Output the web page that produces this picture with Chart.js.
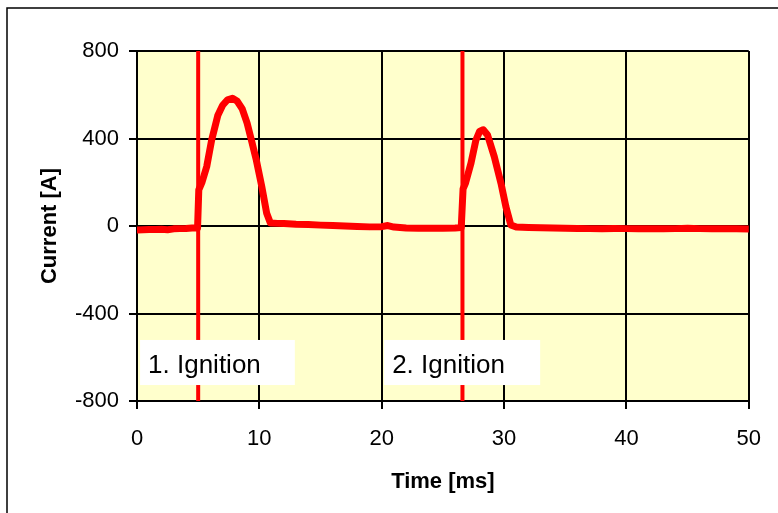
<!DOCTYPE html>
<html>
<head>
<meta charset="utf-8">
<script src="https://cdn.jsdelivr.net/npm/chart.js@4"></script>
<style>
  html, body { margin: 0; padding: 0; background: #ffffff; }
  #wrap { position: relative; width: 778px; height: 513px; }
</style>
</head>
<body>
<div id="wrap"><canvas id="c" width="778" height="513"></canvas></div>
<script>
// ---- Data ----
const timeMs = [
  0, 0.5, 1, 1.5, 2, 2.5, 3, 3.5, 4, 4.5, 4.95,
  5.05, 5.3, 5.7, 6.1, 6.6, 7.0, 7.4, 7.8, 8.2, 8.6, 9.0, 9.35, 9.75, 10.2, 10.6, 10.9,
  11.5, 12, 13, 14, 15, 16, 17, 18, 19, 20, 20.5, 21, 22, 23, 24, 25, 26, 26.5,
  26.65, 26.85, 27.3, 27.7, 28.0, 28.3, 28.65, 29.2, 29.75, 30.15, 30.55, 31,
  32, 33, 34, 35, 36, 37, 38, 39, 40, 41, 42, 43, 44, 45, 46, 47, 48, 49, 50
];
const currentA = [
  -18, -17, -16, -16, -15, -17, -13, -12, -11, -9, -9,
  165, 198, 272, 393, 505, 552, 577, 584, 570, 535, 470, 393, 302, 180, 58, 14,
  12, 11, 8, 7, 4, 2, 0, -2, -4, -3, 2, -5, -9, -10, -10, -10, -9, -7,
  170, 196, 288, 393, 432, 440, 416, 317, 195, 88, 5, -5,
  -7, -8, -9, -10, -11, -12, -12, -11, -12, -13, -12, -13, -12, -10, -12, -13, -13, -13, -14
];
const ignitionTimes = [5.0, 26.6];
const ignitionLabels = ["1. Ignition", "2. Ignition"];
const xTicks = [0, 10, 20, 30, 40, 50];
const yTicks = [-800, -400, 0, 400, 800];

// ---- Build datasets ----
const tracePoints = timeMs.map((t, i) => ({ x: t, y: currentA[i] }));
const yMin = yTicks[0], yMax = yTicks[yTicks.length - 1];
const ignitionSets = ignitionTimes.map(t => ({
  data: [{ x: t, y: yMin }, { x: t, y: yMax }],
  borderColor: '#ff0000',
  borderWidth: 4,
  pointRadius: 0,
  fill: false
}));

const FONT = "'Liberation Sans', Arial, sans-serif";

const plotBg = {
  id: 'plotBg',
  beforeDraw(chart) {
    const { ctx, chartArea: a } = chart;
    ctx.save();
    ctx.fillStyle = '#ffffff';
    ctx.fillRect(0, 0, chart.width, chart.height);
    ctx.strokeStyle = '#000000';
    ctx.lineWidth = 1.5;
    ctx.beginPath();
    ctx.moveTo(7, chart.height + 5);
    ctx.lineTo(7, 8);
    ctx.lineTo(chart.width + 5, 8);
    ctx.stroke();
    ctx.fillStyle = '#ffffcc';
    ctx.fillRect(a.left, a.top, a.right - a.left, a.bottom - a.top);
    ctx.restore();
  }
};

// label boxes positioned in data units (left/right time, top/bottom current)
const labelBoxes = {
  id: 'labelBoxes',
  afterDatasetsDraw(chart, args, opts) {
    const { ctx, scales: { x, y } } = chart;
    ctx.save();
    opts.boxes.forEach((b, i) => {
      const l = x.getPixelForValue(b.x0), r = x.getPixelForValue(b.x1);
      const t = y.getPixelForValue(b.y0), btm = y.getPixelForValue(b.y1);
      ctx.fillStyle = '#ffffff';
      ctx.fillRect(l, t, r - l, btm - t);
      ctx.fillStyle = '#000000';
      ctx.font = '26px ' + FONT;
      ctx.textBaseline = 'alphabetic';
      ctx.textAlign = 'left';
      ctx.fillText(ignitionLabels[i], l + 8, btm - 12);
    });
    ctx.restore();
  }
};

new Chart(document.getElementById('c'), {
  type: 'line',
  data: {
    datasets: [
      ...ignitionSets,
      {
        data: tracePoints,
        borderColor: '#ff0000',
        borderWidth: 7,
        pointRadius: 0,
        fill: false,
        tension: 0,
        borderJoinStyle: 'round',
        borderCapStyle: 'round'
      }
    ]
  },
  options: {
    responsive: false,
    animation: false,
    events: [],
    layout: { padding: { top: 51, right: 28, left: 0, bottom: 0 } },
    plugins: {
      legend: { display: false },
      tooltip: { enabled: false },
      labelBoxes: {
        boxes: [
          { x0: 0.25, x1: 12.9, y0: -521, y1: -727 },
          { x0: 20.2, x1: 32.95, y0: -521, y1: -727 }
        ]
      }
    },
    scales: {
      x: {
        type: 'linear',
        min: xTicks[0], max: xTicks[xTicks.length - 1],
        afterBuildTicks: s => { s.ticks = xTicks.map(v => ({ value: v })); },
        afterFit: s => { s.height = 112; },
        grid: { color: '#000000', lineWidth: 2, tickLength: 8, drawTicks: true },
        border: { color: '#000000', width: 2 },
        ticks: { color: '#000000', font: { family: FONT, size: 22 }, padding: 17, maxRotation: 0 },
        title: {
          display: true, text: 'Time [ms]', color: '#000000',
          font: { family: FONT, size: 22, weight: 'bold' },
          padding: { top: 0, bottom: 18 }
        }
      },
      y: {
        type: 'linear',
        min: yMin, max: yMax,
        afterBuildTicks: s => { s.ticks = yTicks.map(v => ({ value: v })); },
        afterFit: s => { s.width = 137; },
        grid: { color: '#000000', lineWidth: 2, tickLength: 8, drawTicks: true },
        border: { color: '#000000', width: 2 },
        ticks: { color: '#000000', font: { family: FONT, size: 22 }, padding: 10 },
        title: {
          display: true, text: 'Current [A]', color: '#000000',
          font: { family: FONT, size: 22, weight: 'bold' },
          padding: { top: 37, bottom: 0 }
        }
      }
    }
  },
  plugins: [plotBg, labelBoxes]
});
</script>
</body>
</html>
